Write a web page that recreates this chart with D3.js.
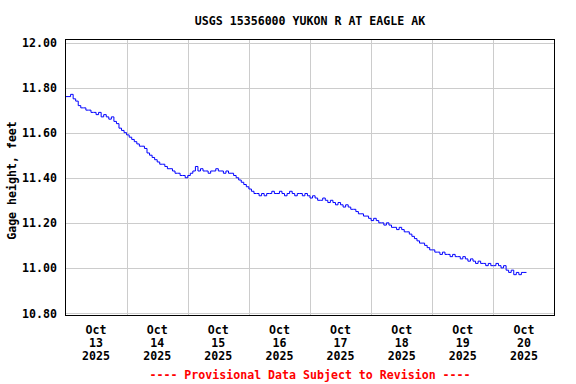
<!DOCTYPE html>
<html>
<head>
<meta charset="utf-8">
<script src="https://cdn.jsdelivr.net/npm/d3@7"></script>
<style>
  html, body { margin: 0; padding: 0; background: #fff; }
  svg { display: block; font-family: "DejaVu Sans Mono", monospace; font-weight: bold; }
</style>
</head>
<body>
<div id="chart"></div>
<script>
// Gage height, hourly readings starting Oct 13 2025 00:00
const title = 'USGS 15356000 YUKON R AT EAGLE AK'
const yLabel = 'Gage height, feet'
const footer = '---- Provisional Data Subject to Revision ----'
const startDay = [2025, 9, 13]
const dayCount = 8
const yTicks = [10.80, 11.00, 11.20, 11.40, 11.60, 11.80, 12.00]

const oct13 = [11.76, 11.76, 11.77, 11.75, 11.74, 11.72, 11.71, 11.71, 11.70, 11.70, 11.69, 11.69,
  11.68, 11.69, 11.67, 11.68, 11.67, 11.66, 11.67, 11.65, 11.64, 11.62, 11.61, 11.60]
const oct14 = [11.59, 11.58, 11.57, 11.56, 11.55, 11.54, 11.54, 11.53, 11.51, 11.50, 11.49, 11.48,
  11.47, 11.46, 11.46, 11.45, 11.44, 11.44, 11.43, 11.42, 11.42, 11.41, 11.41, 11.40]
const oct15 = [11.41, 11.42, 11.43, 11.45, 11.43, 11.44, 11.43, 11.43, 11.42, 11.43, 11.43, 11.44,
  11.43, 11.43, 11.42, 11.43, 11.42, 11.42, 11.41, 11.40, 11.39, 11.38, 11.37, 11.36]
const oct16 = [11.35, 11.34, 11.33, 11.33, 11.32, 11.33, 11.32, 11.33, 11.33, 11.34, 11.33, 11.33,
  11.34, 11.33, 11.32, 11.33, 11.34, 11.33, 11.32, 11.33, 11.33, 11.32, 11.33, 11.32]
const oct17 = [11.31, 11.32, 11.31, 11.30, 11.30, 11.31, 11.30, 11.29, 11.30, 11.29, 11.28, 11.29,
  11.28, 11.27, 11.28, 11.27, 11.26, 11.26, 11.25, 11.24, 11.24, 11.23, 11.23, 11.22]
const oct18 = [11.21, 11.22, 11.21, 11.20, 11.20, 11.19, 11.20, 11.19, 11.18, 11.18, 11.17, 11.18,
  11.17, 11.16, 11.16, 11.15, 11.14, 11.13, 11.12, 11.11, 11.11, 11.10, 11.09, 11.08]
const oct19 = [11.08, 11.07, 11.07, 11.06, 11.07, 11.06, 11.06, 11.05, 11.06, 11.05, 11.05, 11.04,
  11.05, 11.04, 11.03, 11.04, 11.03, 11.02, 11.03, 11.02, 11.02, 11.01, 11.02, 11.01]
const oct20 = [11.01, 11.02, 11.01, 11.00, 11.01, 10.99, 10.98, 10.99, 10.97, 10.98, 10.97, 10.98, 10.98, 10.98]

const heights = [...oct13, ...oct14, ...oct15, ...oct16, ...oct17, ...oct18, ...oct19, ...oct20]
const t0 = Date.UTC(...startDay)
const HOUR = 3600e3, DAY = 24 * HOUR
const data = heights.map((v, i) => ({ t: new Date(t0 + i * HOUR), v }))

const width = 576, height = 384
const box = { left: 65.5, right: 554.5, top: 39.5, bottom: 315.5 }

const x = d3.scaleUtc()
  .domain([new Date(t0), new Date(t0 + dayCount * DAY)])
  .range([box.left, box.right])
const y = d3.scaleLinear().domain([10.80, 12.00]).range([313, 42.5])

const svg = d3.select('#chart').append('svg')
  .attr('width', width).attr('height', height)
  .attr('viewBox', `0 0 ${width} ${height}`)

const fs = '11.6px'

svg.append('text').attr('x', (box.left + box.right) / 2).attr('y', 25)
  .attr('text-anchor', 'middle').style('font-size', fs).text(title)

// grid
const days = d3.range(1, dayCount).map(i => new Date(t0 + i * DAY))
svg.append('g').selectAll('line').data(days).join('line')
  .attr('x1', d => Math.round(x(d)) + 0.5).attr('x2', d => Math.round(x(d)) + 0.5)
  .attr('y1', box.top).attr('y2', box.bottom)
  .attr('stroke', '#cccccc').attr('stroke-width', 1)
svg.append('g').selectAll('line').data(yTicks).join('line')
  .attr('x1', box.left).attr('x2', box.right)
  .attr('y1', d => Math.round(y(d)) + 0.5).attr('y2', d => Math.round(y(d)) + 0.5)
  .attr('stroke', '#cccccc').attr('stroke-width', 1)

// data line
svg.append('path').datum(data)
  .attr('fill', 'none').attr('stroke', '#0000ff').attr('stroke-width', 1)
  .attr('d', d3.line().x(d => x(d.t)).y(d => y(d.v)).curve(d3.curveStepAfter))

// frame
svg.append('rect').attr('x', box.left).attr('y', box.top)
  .attr('width', box.right - box.left).attr('height', box.bottom - box.top)
  .attr('fill', 'none').attr('stroke', '#000').attr('stroke-width', 1)

// y tick labels
svg.append('g').selectAll('text').data(yTicks).join('text')
  .attr('x', 57).attr('y', d => y(d) + 4.5)
  .attr('text-anchor', 'end').style('font-size', fs)
  .text(d => d.toFixed(2))

svg.append('text')
  .attr('transform', `translate(16,${(box.top + box.bottom) / 2 + 3}) rotate(-90)`)
  .attr('text-anchor', 'middle').style('font-size', fs).text(yLabel)

// x day labels at noon
const noons = d3.range(dayCount).map(i => new Date(t0 + i * DAY + 12 * HOUR))
const fmtMon = d3.utcFormat('%b'), fmtDay = d3.utcFormat('%-d'), fmtYr = d3.utcFormat('%Y')
const lbl = svg.append('g').selectAll('g').data(noons).join('g')
  .attr('transform', d => `translate(${x(d)},0)`)
lbl.append('text').attr('y', 334).attr('text-anchor', 'middle').style('font-size', fs).text(fmtMon)
lbl.append('text').attr('y', 347).attr('text-anchor', 'middle').style('font-size', fs).text(fmtDay)
lbl.append('text').attr('y', 360).attr('text-anchor', 'middle').style('font-size', fs).text(fmtYr)

svg.append('text').attr('x', (box.left + box.right) / 2).attr('y', 379)
  .attr('text-anchor', 'middle').attr('fill', '#ff0000').style('font-size', fs).text(footer)
</script>
</body>
</html>
